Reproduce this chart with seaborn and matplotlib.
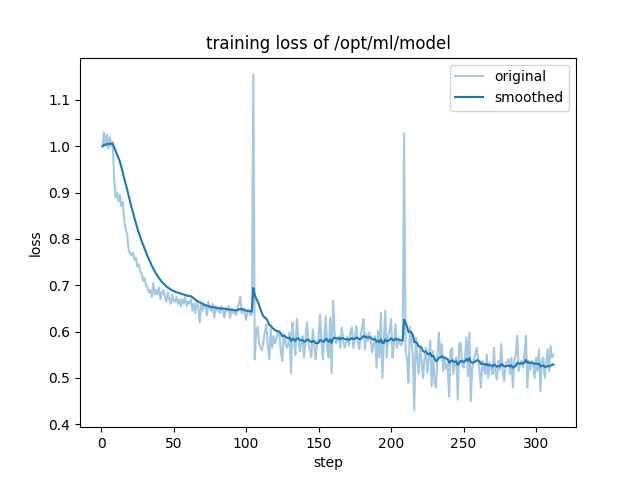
import numpy as np
import pandas as pd
import matplotlib
matplotlib.use("Agg")
import matplotlib.pyplot as plt
import seaborn as sns

# loss values, one per step
original = [
    1.00, 1.03, 1.00, 1.025, 0.995, 1.02, 1.00, 1.01, 0.93, 0.89,
    0.90, 0.88, 0.895, 0.87, 0.88, 0.84, 0.82, 0.81, 0.775, 0.77,
    0.765, 0.77, 0.755, 0.76, 0.74, 0.745, 0.73, 0.725, 0.71, 0.715,
    0.70, 0.695, 0.685, 0.69, 0.675, 0.705, 0.68, 0.69, 0.68, 0.695,
    0.67, 0.685, 0.69, 0.675, 0.665, 0.685, 0.67, 0.66, 0.68, 0.665,
    0.665, 0.675, 0.66, 0.67, 0.655, 0.67, 0.66, 0.675, 0.655, 0.665,
    0.66,
    0.67, 0.645, 0.66, 0.64, 0.665, 0.655, 0.62, 0.66, 0.645, 0.66,
    0.655, 0.635, 0.665, 0.65, 0.645, 0.66, 0.63, 0.655, 0.645, 0.65,
    0.64, 0.655, 0.645, 0.63, 0.65, 0.645, 0.655, 0.63, 0.65, 0.64,
    0.645, 0.635, 0.65, 0.66, 0.675, 0.64, 0.65, 0.64, 0.625, 0.645,
    0.645, 0.635, 0.64, 1.155,
    0.54, 0.60, 0.61, 0.575, 0.565, 0.56,
    0.58, 0.60, 0.615, 0.57, 0.54, 0.605, 0.565, 0.59, 0.575, 0.585,
    0.60, 0.595, 0.555, 0.537, 0.596, 0.58, 0.565, 0.57, 0.598, 0.51,
    0.62, 0.58, 0.55, 0.627, 0.59, 0.558, 0.575, 0.59, 0.544, 0.585,
    0.62, 0.575, 0.56, 0.545, 0.605, 0.57, 0.54, 0.575, 0.587, 0.637,
    0.575,
    0.54, 0.59, 0.633, 0.56, 0.544, 0.63, 0.51, 0.666, 0.60, 0.575,
    0.58, 0.59, 0.565, 0.609, 0.58, 0.565, 0.575, 0.59, 0.57, 0.60,
    0.609, 0.565, 0.585, 0.612, 0.58, 0.562, 0.59, 0.61, 0.627, 0.562,
    0.595,
    0.58, 0.598, 0.58, 0.555, 0.575, 0.59, 0.522, 0.601, 0.544, 0.641,
    0.50, 0.58, 0.645, 0.544, 0.59, 0.60, 0.627, 0.544, 0.575, 0.616,
    0.565, 0.585, 0.575, 0.57, 0.58, 1.028,
    0.56, 0.54, 0.49, 0.61, 0.58, 0.55, 0.43,
    0.587, 0.55, 0.508, 0.565, 0.537, 0.50, 0.54,
    0.565, 0.511, 0.544, 0.58, 0.482, 0.558, 0.49, 0.479, 0.551, 0.598,
    0.544, 0.573, 0.515, 0.544, 0.52, 0.53, 0.46, 0.558, 0.565, 0.508,
    0.537, 0.544, 0.453, 0.573, 0.576, 0.53, 0.522, 0.547, 0.587, 0.504,
    0.598, 0.45, 0.522, 0.537, 0.55, 0.565, 0.544, 0.515, 0.479, 0.537,
    0.52, 0.508, 0.551, 0.50, 0.533, 0.522, 0.508, 0.565, 0.51, 0.497,
    0.537, 0.518, 0.573, 0.515, 0.493, 0.529, 0.535, 0.54, 0.508, 0.544,
    0.479, 0.537, 0.551, 0.591, 0.515, 0.53, 0.537, 0.522, 0.551, 0.591,
    0.479, 0.537, 0.518, 0.537, 0.53, 0.50, 0.544, 0.515, 0.562, 0.471,
    0.537, 0.544, 0.50, 0.53, 0.562, 0.515, 0.569, 0.544, 0.55,
]

smoothed = [
    1.000, 1.003, 1.003, 1.005, 1.004, 1.006, 1.005, 1.005, 0.998, 0.990,
    0.982, 0.975, 0.966, 0.955, 0.942, 0.930, 0.918, 0.906, 0.893, 0.880,
    0.868, 0.857, 0.845, 0.834, 0.823, 0.813, 0.804, 0.795, 0.787, 0.779,
    0.771, 0.763, 0.756, 0.749, 0.742, 0.736, 0.730, 0.725, 0.720, 0.715,
    0.711, 0.707, 0.704, 0.701, 0.698, 0.695, 0.693, 0.691, 0.689, 0.688,
    0.686, 0.685, 0.684, 0.683, 0.682, 0.681, 0.680, 0.679, 0.678, 0.677,
    0.677,
    0.676, 0.674, 0.672, 0.669, 0.667, 0.665, 0.663, 0.662, 0.660, 0.658,
    0.657, 0.656, 0.655, 0.654, 0.653, 0.653, 0.652, 0.652, 0.651, 0.651,
    0.650, 0.650, 0.650, 0.649, 0.649, 0.648, 0.648, 0.647, 0.647, 0.647,
    0.646, 0.646, 0.646, 0.648, 0.649, 0.648, 0.648, 0.647, 0.645, 0.645,
    0.645, 0.644, 0.643, 0.694,
    0.679, 0.671, 0.665, 0.657, 0.648, 0.639,
    0.633, 0.630, 0.628, 0.622, 0.614, 0.613, 0.608, 0.606, 0.603, 0.601,
    0.601, 0.600, 0.596, 0.590, 0.591, 0.590, 0.587, 0.586, 0.587, 0.580,
    0.584, 0.584, 0.580, 0.585, 0.585, 0.582, 0.581, 0.582, 0.578, 0.579,
    0.583, 0.582, 0.580, 0.577, 0.580, 0.579, 0.575, 0.575, 0.576, 0.582,
    0.581,
    0.578, 0.579, 0.585, 0.582, 0.578, 0.583, 0.576, 0.585, 0.587, 0.586,
    0.585, 0.586, 0.584, 0.586, 0.586, 0.584, 0.583, 0.584, 0.582, 0.584,
    0.586, 0.584, 0.584, 0.587, 0.586, 0.584, 0.584, 0.587, 0.591, 0.588,
    0.588,
    0.587, 0.588, 0.587, 0.584, 0.583, 0.584, 0.578, 0.580, 0.577, 0.583,
    0.575, 0.576, 0.583, 0.579, 0.580, 0.582, 0.586, 0.582, 0.581, 0.585,
    0.583, 0.583, 0.582, 0.581, 0.581, 0.626,
    0.619, 0.611, 0.599, 0.600, 0.598, 0.593, 0.577, 0.578, 0.575,
    0.568, 0.568, 0.565, 0.558, 0.556, 0.557, 0.552, 0.551, 0.554, 0.547,
    0.548, 0.542, 0.536, 0.538, 0.544, 0.544, 0.547, 0.544, 0.544, 0.542,
    0.541, 0.533, 0.536, 0.538, 0.535, 0.535, 0.536, 0.528, 0.532, 0.537,
    0.536, 0.535, 0.536, 0.541, 0.537, 0.543, 0.534, 0.533, 0.534, 0.535,
    0.538, 0.538, 0.536, 0.530, 0.531, 0.530, 0.528, 0.530, 0.527, 0.528,
    0.527, 0.525, 0.529, 0.527, 0.524, 0.526, 0.525, 0.530, 0.528, 0.525,
    0.525, 0.526, 0.527, 0.525, 0.527, 0.522, 0.524, 0.526, 0.533, 0.531,
    0.531, 0.532, 0.531, 0.533, 0.539, 0.533, 0.534, 0.532, 0.533, 0.533,
    0.530, 0.531, 0.530, 0.531, 0.525, 0.526, 0.527, 0.524, 0.524, 0.526,
    0.525, 0.527, 0.528, 0.529,
]

df_orig = pd.DataFrame({"step": np.arange(1, len(original) + 1), "loss": original})
df_smooth = pd.DataFrame({"step": np.arange(1, len(smoothed) + 1), "loss": smoothed})

fig, ax = plt.subplots(figsize=(6.4, 4.8), dpi=100)
sns.lineplot(data=df_orig, x="step", y="loss", ax=ax, color="#1f77b4", alpha=0.4, label="original")
sns.lineplot(data=df_smooth, x="step", y="loss", ax=ax, color="#1f77b4", label="smoothed")

ax.set_title("training loss of /opt/ml/model")
ax.set_xlabel("step")
ax.set_ylabel("loss")
ax.legend(loc="upper right")

plt.savefig("out.png")
print(len(original), len(smoothed))
